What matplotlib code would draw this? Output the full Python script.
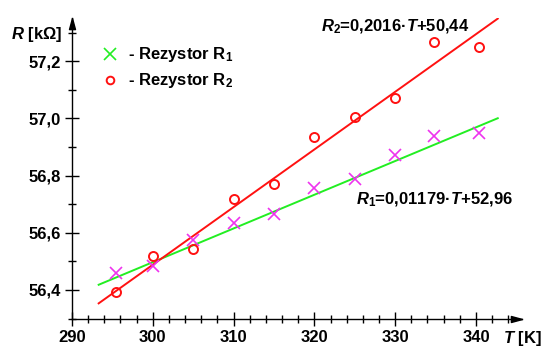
import numpy as np
import matplotlib
matplotlib.use('Agg')
import matplotlib.pyplot as plt
from matplotlib.ticker import MultipleLocator, FuncFormatter

plt.rcParams['font.family'] = ['Liberation Sans', 'DejaVu Sans']
plt.rcParams['font.weight'] = 'bold'
plt.rcParams['mathtext.fontset'] = 'custom'
plt.rcParams['mathtext.rm'] = 'Liberation Sans:bold'
plt.rcParams['mathtext.it'] = 'Liberation Sans:italic:bold'

# measurements
T1 = [295.5, 300, 305, 310, 315, 320, 325, 330, 334.8, 340.4]
R1 = [56.458, 56.484, 56.573, 56.633, 56.664, 56.757, 56.788, 56.873, 56.940, 56.950]
T2 = [295.5, 300, 305, 310, 315, 320, 325, 330, 334.8, 340.4]
R2 = [56.394, 56.519, 56.542, 56.718, 56.772, 56.935, 57.005, 57.070, 57.266, 57.250]

# fitted lines  R = a*T + b
fit1 = (0.01179, 52.96)
fit2 = (0.02016, 50.44)
T_fit = [293.3, 342.7]

W, H = 541, 347
fig = plt.figure(figsize=(W / 100, H / 100), dpi=100)
ax = fig.add_axes([72 / W, (H - 318.5) / H, 450 / W, 300.5 / H])

tf = np.array(T_fit)
ax.plot(tf, np.polyval(fit1, tf), color='#22ee22', lw=1.4, zorder=2)
ax.plot(tf, np.polyval(fit2, tf), color='#ff1111', lw=1.4, zorder=2)
ax.plot(T1, R1, ls='none', marker='x', ms=9, mew=1.2, color='#ee33ee', zorder=3)
ax.plot(T2, R2, ls='none', marker='o', ms=6.5, mew=1.4, mfc='none', mec='#ff1111', zorder=3)

ax.set_xlim(290, 345.7)
ax.set_ylim(56.3, 57.351)

for s in ['top', 'right']:
    ax.spines[s].set_visible(False)
for s in ['left', 'bottom']:
    ax.spines[s].set_linewidth(1.0)

ax.xaxis.set_minor_locator(MultipleLocator(2))
ax.yaxis.set_minor_locator(MultipleLocator(0.1))
ax.set_xticks([290, 300, 310, 320, 330, 340])
ax.set_yticks([56.4, 56.6, 56.8, 57.0, 57.2])
ax.yaxis.set_major_formatter(FuncFormatter(lambda v, p: f'{v:.1f}'.replace('.', ',')))
ax.xaxis.set_major_formatter(FuncFormatter(lambda v, p: f'{v:.0f}'))
ax.tick_params(which='major', direction='inout', length=10, width=1.0, labelsize=12, pad=3)
ax.tick_params(which='minor', direction='inout', length=6, width=1.0)

# arrow heads (slim triangles, tip at the end of each axis)
right_tip = [(0, 0), (-1, 0.27), (-1, -0.27), (0, 0)]
up_tip = [(0, 0), (0.27, -1), (-0.27, -1), (0, 0)]
ax.plot(1, 0, marker=right_tip, ms=16, color='black', transform=ax.transAxes, clip_on=False)
ax.plot(0, 1, marker=up_tip, ms=16, color='black', transform=ax.transAxes, clip_on=False)

# axis titles
fig.text(11 / W, 1 - 35 / H, r'$\mathit{R}$ [kΩ]', fontsize=12, va='center', ha='left')
fig.text(503 / W, 1 - 338 / H, r'$\mathit{T}$ [K]', fontsize=12, va='center', ha='left')

# legend
fig.lines.append(plt.Line2D([110 / W], [1 - 54 / H], marker='x', ms=8.5, mew=1.2,
                            color='#22ee22', transform=fig.transFigure))
fig.lines.append(plt.Line2D([110 / W], [1 - 80 / H], marker='o', ms=5.5, mew=1.4,
                            mfc='none', mec='#ff1111', transform=fig.transFigure))
fig.text(128 / W, 1 - 54 / H, r'- Rezystor R$_1$', fontsize=12, va='center', ha='left')
fig.text(128 / W, 1 - 80 / H, r'- Rezystor R$_2$', fontsize=12, va='center', ha='left')

# equations
fig.text(395 / W, 1 - 27 / H, r'$\mathit{R}_2$=0,2016·$\mathit{T}$+50,44', fontsize=12,
         va='center', ha='center')
fig.text(435 / W, 1 - 200 / H, r'$\mathit{R}_1$=0,01179·$\mathit{T}$+52,96', fontsize=12,
         va='center', ha='center')

fig.savefig('out.png', dpi=100)
